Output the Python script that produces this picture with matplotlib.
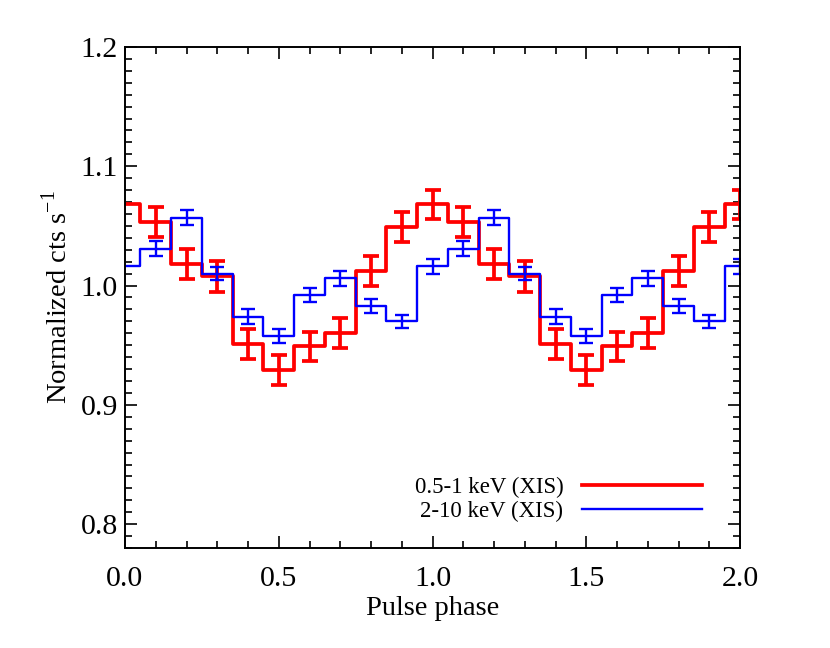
import numpy as np
import matplotlib
matplotlib.use("Agg")
import matplotlib.pyplot as plt
from matplotlib.ticker import MultipleLocator, FormatStrFormatter

# one pulse cycle, 10 phase bins (centres at 0.0 ... 0.9), shown twice
phase_bins = np.arange(10) * 0.1
soft_rate = [1.068, 1.053, 1.018, 1.008, 0.951, 0.929, 0.949, 0.960, 1.012, 1.049]
soft_err = [0.0125, 0.0125, 0.0125, 0.013, 0.0124, 0.0124, 0.0124, 0.0124, 0.0126, 0.0126]
hard_rate = [1.016, 1.031, 1.057, 1.010, 0.974, 0.958, 0.992, 1.006, 0.983, 0.970]
hard_err = [0.006, 0.006, 0.006, 0.0057, 0.006, 0.006, 0.006, 0.006, 0.006, 0.0057]
labels = ["0.5-1 keV (XIS)", "2-10 keV (XIS)"]

plt.rcParams["font.family"] = ["Liberation Serif", "DejaVu Serif"]
plt.rcParams["mathtext.fontset"] = "custom"
plt.rcParams["mathtext.rm"] = "Liberation Serif"

# repeat over two cycles, plus the wrap point at phase 2.0
x = np.concatenate([phase_bins, phase_bins + 1, [2.0]])
soft = np.concatenate([soft_rate, soft_rate, soft_rate[:1]])
softe = np.concatenate([soft_err, soft_err, soft_err[:1]])
hard = np.concatenate([hard_rate, hard_rate, hard_rate[:1]])
harde = np.concatenate([hard_err, hard_err, hard_err[:1]])

fig = plt.figure(figsize=(8.3, 6.48), dpi=100)
ax = fig.add_axes([0.1506, 0.1543, 0.7410, 0.7732])

l1, = ax.step(x, soft, where="mid", color="#ff0000", lw=2.7, label=labels[0])
ax.errorbar(x[1:], soft[1:], yerr=softe[1:], fmt="none", ecolor="#ff0000",
            elinewidth=2.7, capsize=6.0, capthick=2.7)
l2, = ax.step(x, hard, where="mid", color="#0000ff", lw=1.7, label=labels[1])
ax.errorbar(x[1:], hard[1:], yerr=harde[1:], fmt="none", ecolor="#0000ff",
            elinewidth=1.7, capsize=5.0, capthick=1.7)

ax.set_xlim(0, 2)
ax.set_ylim(0.78, 1.2)
ax.xaxis.set_major_locator(MultipleLocator(0.5))
ax.xaxis.set_minor_locator(MultipleLocator(0.1))
ax.yaxis.set_major_locator(MultipleLocator(0.1))
ax.yaxis.set_minor_locator(MultipleLocator(0.01))
ax.xaxis.set_major_formatter(FormatStrFormatter("%.1f"))
ax.yaxis.set_major_formatter(FormatStrFormatter("%.1f"))
ax.tick_params(which="both", direction="in", top=True, right=True, width=1.2)
ax.tick_params(which="major", length=8.5, labelsize=21.5)
ax.tick_params(which="minor", length=5)
ax.tick_params(axis="x", which="major", pad=13)
ax.tick_params(axis="y", which="major", pad=5)
for s in ax.spines.values():
    s.set_linewidth(1.4)

ax.set_xlabel("Pulse phase", fontsize=20.5, labelpad=3)
ax.set_ylabel("Normalized cts s$^{\\mathrm{-1}}$", fontsize=20.5, labelpad=6)

ax.legend(handles=[l1, l2], loc="lower right", bbox_to_anchor=(0.953, 0.034),
          frameon=False, markerfirst=False, handlelength=5.25, handletextpad=0.8,
          labelspacing=0.1, fontsize=16.5, borderaxespad=0)

fig.savefig("out.png", dpi=100)
